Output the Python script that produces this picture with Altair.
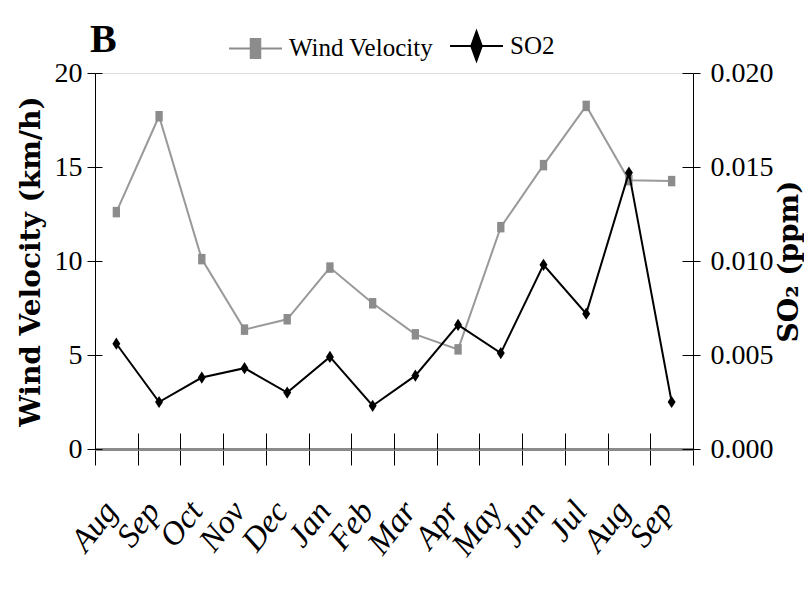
import altair as alt
import pandas as pd

months = ["Aug", "Sep", "Oct", "Nov", "Dec", "Jan", "Feb", "Mar", "Apr", "May", "Jun", "Jul", "Aug", "Sep"]
wind = [12.6, 17.7, 10.1, 6.35, 6.9, 9.65, 7.75, 6.1, 5.3, 11.8, 15.1, 18.25, 14.3, 14.25]
so2 = [0.0056, 0.0025, 0.0038, 0.0043, 0.0030, 0.0049, 0.0023, 0.0039, 0.0066, 0.0051, 0.0098, 0.0072, 0.0147, 0.0025]
series = ["Wind Velocity", "SO2"]
wind_ticks = [0, 5, 10, 15, 20]
so2_ticks = [0, 0.005, 0.01, 0.015, 0.02]

keys = [f"{i:02d}{m}" for i, m in enumerate(months)]
df = pd.DataFrame({"key": keys, "wind": wind, "so2": so2})
long = pd.DataFrame({"key": keys + keys, "series": [series[0]] * len(keys) + [series[1]] * len(keys),
                     "value": wind + [v * 1000 for v in so2]})

SERIF = "Liberation Serif"
xscale = alt.Scale(type="band", paddingInner=0, paddingOuter=0)
wscale = alt.Scale(domain=[0, 20])
sscale = alt.Scale(domain=[0, 0.02])

xaxis = alt.Axis(title=None, labelExpr="substring(datum.label, 2)", labelAngle=-52,
                 labelFont=SERIF, labelFontStyle="italic", labelFontSize=33, labelColor="black",
                 tickBand="extent", tickSize=16, tickColor="black", tickWidth=1,
                 domainColor="#8a8a8a", domainWidth=3, labelPadding=40, labelOffset=-6, grid=False)
X = alt.X("key:N", sort=keys, scale=xscale, axis=xaxis)

left_axis = alt.Axis(title="Wind Velocity (km/h)", values=wind_ticks, grid=False,
                     labelFont=SERIF, labelFontSize=28, labelColor="black", labelPadding=5,
                     tickSize=8, tickColor="black", domainColor="black",
                     titleFont="DejaVu Serif", titleFontWeight="bold", titleFontSize=28,
                     titleColor="black", titlePadding=9)
right_axis = alt.Axis(title="SO₂ (ppm)", orient="right", values=so2_ticks,
                      format=".3f", grid=False,
                      labelFont=SERIF, labelFontSize=28, labelColor="black", labelPadding=10,
                      tickSize=7, tickColor="black", domainColor="black",
                      titleFont="DejaVu Serif", titleFontWeight="bold", titleFontSize=28,
                      titleColor="black", titlePadding=30, titleAngle=270)

SQUARE = "M-0.7,-1H0.7V1H-0.7Z"
DIAMOND = "M-0.65,0L0,-1L0.65,0L0,1Z"

base = alt.Chart(df)
wind_line = base.mark_line(color="#999999", strokeWidth=2).encode(
    x=X, y=alt.Y("wind:Q", scale=wscale, axis=left_axis))
wind_pts = base.mark_point(shape=SQUARE, filled=True, color="#8c8c8c", size=110, opacity=1).encode(
    x=X, y=alt.Y("wind:Q", scale=wscale, axis=left_axis))

leg = alt.Legend(title=None, orient="none", legendX=133, legendY=-55, direction="horizontal",
                 labelFont=SERIF, labelFontSize=25, labelColor="black", labelOffset=6,
                 columnPadding=12, symbolSize=2800, symbolStrokeWidth=2, symbolOpacity=1,
                 labelLimit=300)
cs = alt.Scale(domain=series, range=["#8c8c8c", "black"])
ss = alt.Scale(domain=series, range=["M-1,0H1M-0.18,-0.36H0.18V0.36H-0.18Z",
                                     "M-1,0H1M-0.2,0L0,-0.55L0.2,0L0,0.55Z"])
legend_layer = alt.Chart(long).mark_point(opacity=0, filled=True).encode(
    x=X, y=alt.Y("value:Q", scale=wscale, axis=left_axis),
    fill=alt.Fill("series:N", scale=cs, legend=leg),
    stroke=alt.Stroke("series:N", scale=cs, legend=leg),
    shape=alt.Shape("series:N", scale=ss, legend=leg))

so2_line = base.mark_line(color="black", strokeWidth=2).encode(
    x=X, y=alt.Y("so2:Q", scale=sscale, axis=right_axis))
so2_pts = base.mark_point(shape=DIAMOND, filled=True, color="black", size=150, opacity=1).encode(
    x=X, y=alt.Y("so2:Q", scale=sscale, axis=right_axis))

main = alt.layer(alt.layer(wind_line, wind_pts, legend_layer),
                 alt.layer(so2_line, so2_pts)).resolve_scale(y="independent")

# inner halves of the crossing tick marks
inner1 = base.mark_point(opacity=0).encode(
    x=alt.X("key:N", sort=keys, scale=xscale,
            axis=alt.Axis(orient="bottom", offset=-16, labels=False, domain=False, title=None,
                          tickBand="extent", tickSize=16, tickColor="black", grid=False)),
    y=alt.Y("wind:Q", scale=wscale,
            axis=alt.Axis(orient="left", offset=-7, values=wind_ticks, labels=False, domain=False,
                          title=None, tickSize=7, tickColor="black", grid=False)))
inner2 = base.mark_point(opacity=0).encode(
    x=alt.X("key:N", sort=keys, scale=xscale, axis=None),
    y=alt.Y("so2:Q", scale=sscale,
            axis=alt.Axis(orient="right", offset=-11, values=so2_ticks, labels=False, domain=False,
                          title=None, tickSize=11, tickColor="black", grid=False)))

chart = alt.layer(main, inner1, inner2).resolve_scale(x="independent", y="independent").properties(
    width=598, height=376,
    title=alt.TitleParams("B", anchor="start", frame="group", font=SERIF, fontSize=40,
                          fontWeight="bold", color="black", dx=-5, dy=58, offset=16),
    autosize=alt.AutoSizeParams(type="none"),
    padding={"left": 87, "top": 65, "right": 111, "bottom": 147},
).configure_view(stroke=None).configure(background="white")

chart.save("out.html", embed_options={"renderer": "svg", "actions": False})
